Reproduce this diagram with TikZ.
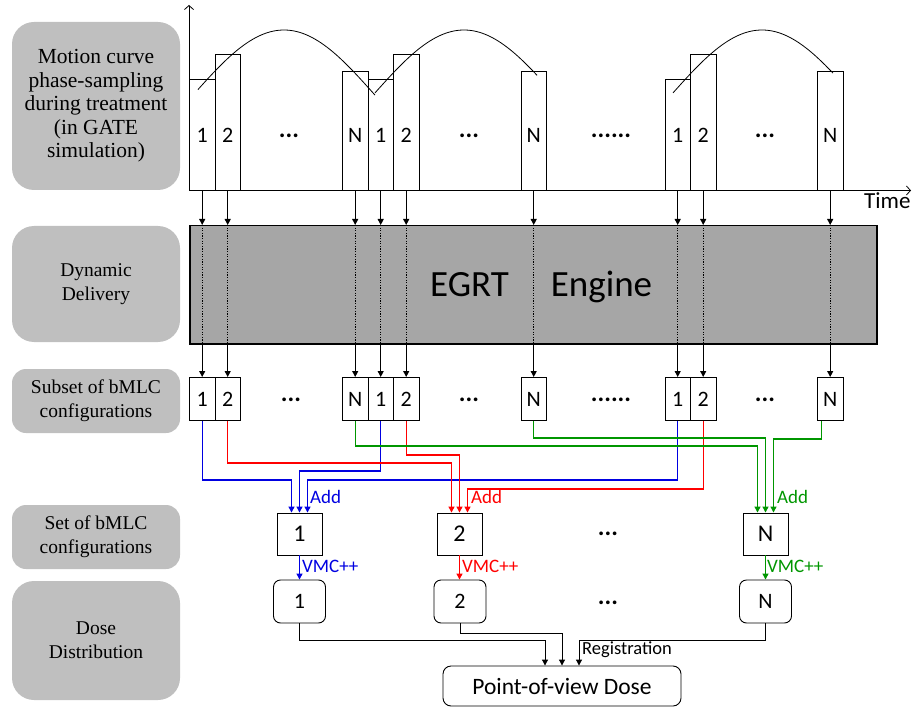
\documentclass[tikz,border=0pt]{standalone}
\usepackage{fontspec}
\setmainfont{Liberation Serif}
\newfontfamily\calfont{Carlito}
\usetikzlibrary{arrows.meta,calc}
\definecolor{lgray}{RGB}{191,191,191}
\definecolor{egray}{RGB}{166,166,166}
\definecolor{cblue}{RGB}{0,0,225}
\definecolor{cred}{RGB}{255,0,0}
\definecolor{cgreen}{RGB}{0,150,0}
\begin{document}
\begin{tikzpicture}[x=1pt,y=-1pt,
  lbox/.style={fill=lgray, rounded corners=22pt, minimum width=168pt, inner sep=0pt, align=center, font=\fontsize{19.5}{24}\selectfont},
  tl/.style={draw, line width=0.9pt, minimum width=25.5pt, inner sep=0pt, anchor=south west},
  sb/.style={draw, line width=0.9pt, minimum width=25.5pt, minimum height=43pt, inner sep=0pt, anchor=north west, font=\calfont\fontsize{22}{24}\selectfont},
  num/.style={font=\calfont\fontsize{22}{24}\selectfont, anchor=base, inner sep=0pt},
  dots/.style={font=\calfont\bfseries\fontsize{25}{26}\selectfont, inner sep=0pt},
  setb/.style={draw, line width=0.9pt, minimum width=45pt, minimum height=42pt, inner sep=0pt, font=\calfont\fontsize{24}{26}\selectfont},
  doseb/.style={draw, line width=0.9pt, rounded corners=7pt, minimum width=52pt, minimum height=43pt, inner sep=0pt, font=\calfont\fontsize{22}{24}\selectfont},
  arr/.style={line width=1pt, -{Triangle[length=6pt,width=6pt]}},
  carr/.style={line width=1.2pt, -{Triangle[length=6pt,width=6pt]}},
  axarr/.style={line width=0.8pt, -{Straight Barb[length=4pt,width=9pt]}},
  clab/.style={font=\calfont\fontsize{19}{21}\selectfont, anchor=west, inner sep=0pt},
]
\useasboundingbox (0,0) rectangle (917,708);

% left labels
\node[lbox, minimum height=168pt, font=\fontsize{21.5}{23.5}\selectfont] (L1) at (96,106) {Motion curve\\phase-sampling\\during treatment\\(in GATE\\simulation)};
\node[lbox, minimum height=116pt] (L2) at (96,284) {Dynamic\\Delivery};
\node[lbox, minimum height=64pt, rounded corners=14pt] (L3) at (96,401) {Subset of bMLC\\configurations};
\node[lbox, minimum height=64pt, rounded corners=14pt] (L4) at (96,537) {Set of bMLC\\configurations};
\node[lbox, minimum height=119pt] (L5) at (96,640.5) {Dose\\Distribution};

% axes
\coordinate (O) at (189,190.5);
\coordinate (Ytop) at (189,5);
\coordinate (Xend) at (911,190.5);
\draw[axarr] (O) -- (Ytop);
\draw[axarr] (O) -- (Xend);
\node[font=\calfont\fontsize{23}{25}\selectfont, anchor=base west, inner sep=0pt] (time) at (864,209) {Time};

% timeline boxes
\node[tl, minimum height=110.5pt] (ta1) at (189,190.5) {};
\node[tl, minimum height=135.5pt] (ta2) at (214.5,190.5) {};
\node[tl, minimum height=118.5pt] (tb1) at (342,190.5) {};
\node[tl, minimum height=110.5pt] (tb2) at (367.5,190.5) {};
\node[tl, minimum height=135.5pt] (tb3) at (393,190.5) {};
\node[tl, minimum height=118.5pt] (tc1) at (520.5,190.5) {};
\node[tl, minimum height=110.5pt] (td1) at (664.5,190.5) {};
\node[tl, minimum height=135.5pt] (td2) at (690,190.5) {};
\node[tl, minimum height=118.5pt] (te1) at (817,190.5) {};
\node[num] (nta1) at (ta1.center |- 0,142.5) {1};
\node[num] (nta2) at (ta2.center |- 0,142.5) {2};
\node[num] (ntb1) at (tb1.center |- 0,142.5) {N};
\node[num] (ntb2) at (tb2.center |- 0,142.5) {1};
\node[num] (ntb3) at (tb3.center |- 0,142.5) {2};
\node[num] (ntc1) at (tc1.center |- 0,142.5) {N};
\node[num] (ntd1) at (td1.center |- 0,142.5) {1};
\node[num] (ntd2) at (td2.center |- 0,142.5) {2};
\node[num] (nte1) at (te1.center |- 0,142.5) {N};
\node[dots] (tdA) at (289,136) {...};
\node[dots] (tdB) at (469,136) {...};
\node[dots] (tdC) at (611,136) {......};
\node[dots] (tdD) at (765,136) {...};

% motion curve
\draw[line width=0.8pt] plot[domain=198:375, samples=60] (\x,{94-64*cos(\x-284)});
\draw[line width=0.8pt] plot[domain=375:537, samples=60] (\x,{94-64*cos(\x-464)});
\draw[line width=0.8pt] plot[domain=673:833, samples=60] (\x,{94-64*cos(\x-762)});

% engine
\node[draw, line width=1.5pt, fill=egray, minimum width=687pt, minimum height=118pt, inner sep=0pt, anchor=north west] (eng) at (189,225) {};
\node[font=\calfont\fontsize{37}{40}\selectfont, anchor=base, inner sep=0pt] (egrt) at (469.5,297) {EGRT};
\node[font=\calfont\fontsize{37}{40}\selectfont, anchor=base, inner sep=0pt] (engine) at (601.5,297) {Engine};

% subset boxes
\node[sb] (sa1) at (189,377) {1};
\node[sb] (sa2) at (214.5,377) {2};
\node[sb] (sb1) at (342,377) {N};
\node[sb] (sb2) at (367.5,377) {1};
\node[sb] (sb3) at (393,377) {2};
\node[sb] (sc1) at (520.5,377) {N};
\node[sb] (sd1) at (664.5,377) {1};
\node[sb] (sd2) at (690,377) {2};
\node[sb] (se1) at (817,377) {N};
\node[dots] (sdA) at (291,400) {...};
\node[dots] (sdB) at (469,400) {...};
\node[dots] (sdC) at (611,400) {......};
\node[dots] (sdD) at (765,400) {...};

% vertical arrows through engine
\foreach \n in {a1,a2,b1,b2,b3,c1,d1,d2,e1}{
  \draw[arr] (t\n.south) -- (t\n.south |- eng.north);
  \draw[line width=1pt, dash pattern=on 1.2pt off 1.4pt] (t\n.south |- eng.north) -- (t\n.south |- eng.south);
  \draw[arr] (t\n.south |- eng.south) -- (s\n.north);
}

% set boxes
\node[setb] (set1) at (299.5,534) {1};
\node[setb] (set2) at (459.5,534) {2};
\node[setb] (setN) at (765.5,534) {N};
\node[dots] (setd) at (608,534) {...};

% dose boxes
\node[doseb] (dose1) at (299.5,601.5) {1};
\node[doseb] (dose2) at (460,601.5) {2};
\node[doseb] (doseN) at (765.5,601.5) {N};
\node[dots] (dosed) at (608,603) {...};

% colored connectors
\draw[carr, cblue] (sa1.south) -- ++(0,59) -| ([xshift=-8pt]set1.north);
\draw[carr, cblue] (sb2.south) -- ++(0,50) -| (set1.north);
\draw[carr, cblue] (sd1.south) -- ++(0,59) -| ([xshift=8pt]set1.north);
\draw[carr, cred] (sa2.south) -- ++(0,42) -| ([xshift=-8pt]set2.north);
\draw[carr, cred] (sb3.south) -- ++(0,34) -| (set2.north);
\draw[carr, cred] (sd2.south) -- ++(0,68) -| ([xshift=8pt]set2.north);
\draw[carr, cgreen] (sb1.south) -- ++(0,25) -| ([xshift=-8pt]setN.north);
\draw[carr, cgreen] (sc1.south) -- ++(0,17) -| (setN.north);
\draw[carr, cgreen] ([xshift=-8.5pt]se1.south) -- ++(0,18) -| ([xshift=8pt]setN.north);
\node[clab, text=cblue] (add1) at (310,497) {Add};
\node[clab, text=cred] (add2) at (471,497) {Add};
\node[clab, text=cgreen] (addN) at (777,497) {Add};

% VMC++
\draw[carr, cblue] (set1.south) -- (dose1.north);
\draw[carr, cred] (set2.south) -- (set2.south |- dose2.north);
\draw[carr, cgreen] (setN.south) -- (doseN.north);
\node[clab, text=cblue] (v1) at (302,566) {VMC++};
\node[clab, text=cred] (v2) at (462,566) {VMC++};
\node[clab, text=cgreen] (vN) at (767,566) {VMC++};

% point-of-view dose
\node[draw, line width=0.9pt, rounded corners=8pt, minimum width=238pt, minimum height=40pt, inner sep=0pt, font=\calfont\fontsize{23.5}{26}\selectfont] (pov) at (562,686) {Point-of-view Dose};
\draw[arr] (dose1.south) -- ++(0,17.5) -| ([xshift=-17pt]pov.north);
\draw[arr] (dose2.south) -- ++(0,10) -| (pov.north);
\draw[arr] (doseN.south) -- ++(0,17.5) -| ([xshift=17pt]pov.north);
\node[font=\calfont\fontsize{18.5}{20}\selectfont, anchor=west, inner sep=0pt] (reg) at (582,650) {Registration};
\end{tikzpicture}
\end{document}
